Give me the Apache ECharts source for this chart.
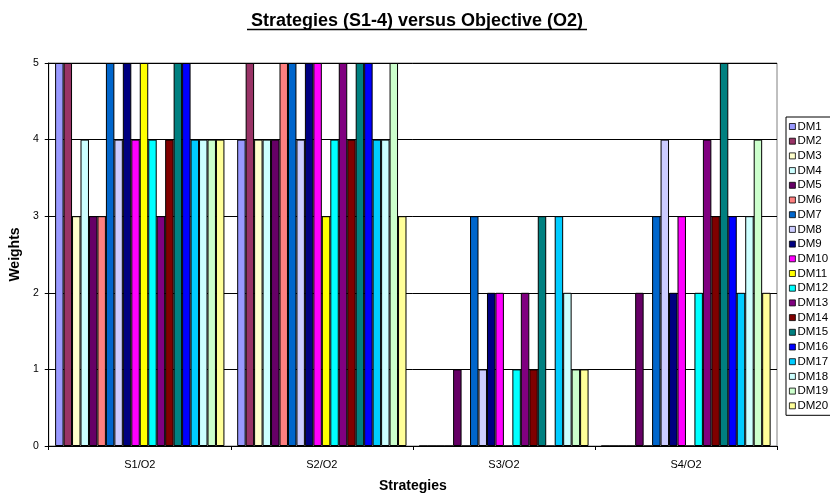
<!DOCTYPE html>
<html>
<head>
<meta charset="utf-8">
<title>Strategies (S1-4) versus Objective (O2)</title>
<script src="https://cdn.jsdelivr.net/npm/echarts@6/dist/echarts.min.js"></script>
<style>
  html, body { margin: 0; padding: 0; background: #fff; }
  #container { width: 830px; height: 498px; }
</style>
</head>
<body>
<div id="container"></div>
<script type="text/javascript">
// categories
var strategies = ['S1/O2', 'S2/O2', 'S3/O2', 'S4/O2'];
var yTicks = [0, 1, 2, 3, 4, 5];

// weights per decision maker, one value per strategy
var DM1  = [5, 4, 0, 0];
var DM2  = [5, 5, 0, 0];
var DM3  = [3, 4, 0, 0];
var DM4  = [4, 4, 0, 0];
var DM5  = [3, 4, 1, 2];
var DM6  = [3, 5, 0, 0];
var DM7  = [5, 5, 3, 3];
var DM8  = [4, 4, 1, 4];
var DM9  = [5, 5, 2, 2];
var DM10 = [4, 5, 2, 3];
var DM11 = [5, 3, 0, 0];
var DM12 = [4, 4, 1, 2];
var DM13 = [3, 5, 2, 4];
var DM14 = [4, 4, 1, 3];
var DM15 = [5, 5, 3, 5];
var DM16 = [5, 5, 0, 3];
var DM17 = [4, 4, 3, 2];
var DM18 = [4, 4, 2, 3];
var DM19 = [4, 5, 1, 4];
var DM20 = [4, 3, 1, 2];

var names = ['DM1','DM2','DM3','DM4','DM5','DM6','DM7','DM8','DM9','DM10',
             'DM11','DM12','DM13','DM14','DM15','DM16','DM17','DM18','DM19','DM20'];
var values = [DM1, DM2, DM3, DM4, DM5, DM6, DM7, DM8, DM9, DM10,
              DM11, DM12, DM13, DM14, DM15, DM16, DM17, DM18, DM19, DM20];
// old excel palette
var colors = ['#9999FF','#993366','#FFFFCC','#CCFFFF','#660066','#FF8080','#0066CC','#CCCCFF','#000080','#FF00FF',
              '#FFFF00','#00FFFF','#800080','#800000','#008080','#0000FF','#00CCFF','#CCFFFF','#CCFFCC','#FFFF99'];

var font = 'Arial, "Liberation Sans", sans-serif';
var chart = echarts.init(document.getElementById('container'), null, { renderer: 'canvas' });

var series = names.map(function (n, i) {
  return {
    name: n,
    type: 'bar',
    data: values[i],
    barGap: 0,
    barCategoryGap: '7%',
    itemStyle: { color: colors[i], borderColor: '#000', borderWidth: 1 },
    emphasis: { disabled: true }
  };
});

var option = {
  animation: false,
  backgroundColor: '#fff',
  title: {
    text: 'Strategies (S1-4) versus Objective (O2)',
    left: 412,
    textAlign: 'center',
    top: 7,
    textStyle: { fontFamily: font, fontSize: 18, fontWeight: 'bold', color: '#000' }
  },
  // underline under the title
  graphic: [{
    type: 'line',
    shape: { x1: 247, y1: 29.5, x2: 587, y2: 29.5 },
    style: { stroke: '#000', lineWidth: 1.6 }
  }],
  legend: {
    orient: 'vertical',
    left: 786,
    top: 117,
    icon: 'rect',
    itemWidth: 6,
    itemHeight: 6,
    itemGap: 1.7,
    padding: [3, 12, 3, 3],
    borderColor: '#000',
    borderWidth: 1,
    backgroundColor: '#fff',
    itemStyle: { borderColor: '#000', borderWidth: 0.8 },
    textStyle: { fontFamily: font, fontSize: 11.5, color: '#000', padding: [0, 0, 0, -3], lineHeight: 13 },
    data: names
  },
  grid: {
    left: 47,
    right: 53,
    top: 63,
    bottom: 51,
    show: true,
    borderColor: '#808080',
    borderWidth: 1
  },
  xAxis: {
    type: 'category',
    data: strategies,
    name: 'Strategies',
    nameLocation: 'middle',
    nameGap: 33,
    nameTextStyle: { fontFamily: font, fontSize: 14, fontWeight: 'bold', color: '#000' },
    axisLine: { lineStyle: { color: '#000', width: 1 } },
    axisTick: { show: true, length: 4, lineStyle: { color: '#000' } },
    axisLabel: { fontFamily: font, fontSize: 11, color: '#000', margin: 13 },
    splitLine: { show: false }
  },
  yAxis: {
    type: 'value',
    min: yTicks[0],
    max: yTicks[yTicks.length - 1],
    interval: 1,
    name: 'Weights',
    nameLocation: 'middle',
    nameGap: 22,
    nameTextStyle: { fontFamily: font, fontSize: 14, fontWeight: 'bold', color: '#000' },
    axisLine: { show: true, lineStyle: { color: '#000', width: 1 } },
    axisTick: { show: true, length: 4, lineStyle: { color: '#000' } },
    axisLabel: { fontFamily: font, fontSize: 10.5, color: '#000', margin: 10 },
    splitLine: { show: true, lineStyle: { color: '#000', width: 1 } }
  },
  series: series
};

chart.setOption(option);
window.addEventListener('resize', chart.resize);
</script>
</body>
</html>
